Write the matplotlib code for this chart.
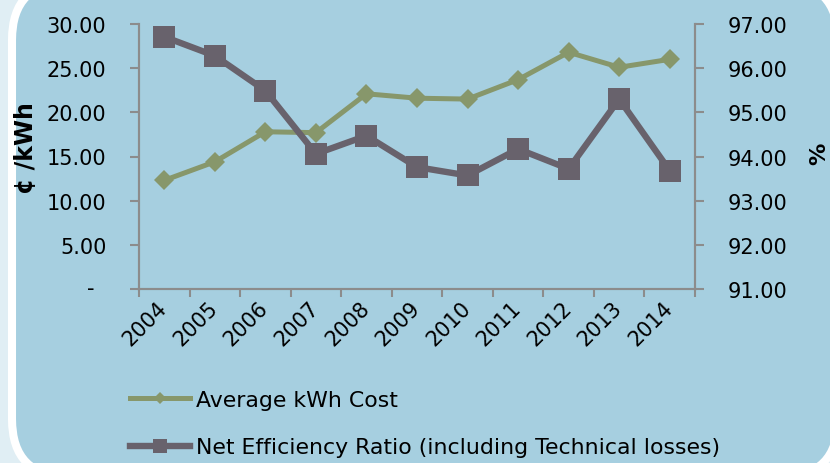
import numpy as np
import matplotlib
matplotlib.use("Agg")
from matplotlib import pyplot as plt
from matplotlib.patches import FancyBboxPatch
from matplotlib.transforms import ScaledTranslation

#################### DATA ####################
years = ["2004", "2005", "2006", "2007", "2008", "2009", "2010", "2011", "2012", "2013", "2014"]
avg_cost = [12.3, 14.4, 17.8, 17.7, 22.1, 21.6, 21.5, 23.7, 26.8, 25.1, 26.0]          # c/kWh, left axis
net_eff = [96.71, 96.28, 95.49, 94.06, 94.47, 93.76, 93.57, 94.17, 93.72, 95.30, 93.68]  # %, right axis
left_ticks = [0, 5, 10, 15, 20, 25, 30]
right_ticks = [91, 92, 93, 94, 95, 96, 97]
labels = ["Average kWh Cost", "Net Efficiency Ratio (including Technical losses)"]

GREEN = "#87976B"
GREY = "#68626C"
BLUE = "#A6CFE0"
SPINE = "#8C8C8C"
FONT = "DejaVu Sans"

W, H = 830, 464
fig = plt.figure(figsize=(W / 100, H / 100), dpi=100)
fig.patch.set_facecolor("#E0EEF4")

# background panel (rounded, white border) in pixel coords
bg = fig.add_axes([0, 0, 1, 1])
bg.set_xlim(0, W)
bg.set_ylim(H, 0)
bg.axis("off")
bg.add_patch(FancyBboxPatch((12, -17), 826, 495, boxstyle="round,pad=0,rounding_size=58",
                            facecolor=BLUE, edgecolor="white", linewidth=5.8))

#################### MAIN AXES ####################
ax = fig.add_axes([139 / W, 1 - 290 / H, (695 - 139) / W, (290 - 25) / H])
ax.patch.set_alpha(0)
ax2 = ax.twinx()

x = np.arange(len(years))
ax.plot(x, avg_cost, color=GREEN, lw=3.6, marker="D", ms=10.5, mew=0, label=labels[0], zorder=3)
ax2.plot(x, net_eff, color=GREY, lw=4.6, marker="s", ms=16.5, mew=0, label=labels[1], zorder=3)

ax.set_xlim(-0.5, len(years) - 0.5)
ax.set_ylim(0, 30)
ax2.set_ylim(91, 97)

ax.set_yticks(left_ticks)
ax.set_yticklabels([""] + ["%.2f" % v for v in left_ticks[1:]])
ax2.set_yticks(right_ticks)
ax2.set_yticklabels(["%.2f" % v for v in right_ticks])

ax.set_xticks(np.arange(-0.5, len(years)), minor=False)
ax.set_xticklabels([])
ax.set_xticks(x, minor=True)
ax.set_xticklabels(years, minor=True, rotation=45, ha="right", va="top", fontsize=15, family=FONT)
ax.tick_params(axis="x", which="minor", length=0, pad=6)
ax.tick_params(axis="x", which="major", length=5.5, width=1.5, color=SPINE, direction="out")
shift = ScaledTranslation(7 / 100, 0, fig.dpi_scale_trans)
for lab in ax.xaxis.get_minorticklabels():
    lab.set_transform(lab.get_transform() + shift)

ax.tick_params(axis="y", length=6.5, width=1.5, color=SPINE, pad=17, labelsize=15)
ax2.tick_params(axis="y", length=6.5, width=1.5, color=SPINE, pad=17, labelsize=15)
for lab in ax.get_yticklabels() + ax2.get_yticklabels():
    lab.set_family(FONT)

for a in (ax, ax2):
    a.spines["top"].set_visible(False)
    for s in ("left", "right", "bottom"):
        a.spines[s].set_color(SPINE)
        a.spines[s].set_linewidth(1.5)

# accounting style zero label
fig.text(91 / W, 1 - 289 / H, "-", ha="center", va="center", fontsize=15, family=FONT)

fig.text(26 / W, 1 - 148 / H, "¢ /kWh", rotation=90, ha="center", va="center",
         fontsize=17, fontweight="bold", family=FONT)
fig.text(819 / W, 1 - 154 / H, "%", rotation=90, ha="center", va="center",
         fontsize=16, fontweight="bold", family=FONT)

h1, l1 = ax.get_legend_handles_labels()
h2, l2 = ax2.get_legend_handles_labels()
fig.legend(h1 + h2, l1 + l2, loc="upper left", bbox_to_anchor=(119 / W, 1 - 380 / H),
           frameon=False, prop={"family": FONT, "size": 15.8}, handlelength=2.75,
           handletextpad=0.27, labelspacing=1.25, markerscale=0.62, borderpad=0)

fig.savefig("out.png", dpi=100, facecolor=fig.get_facecolor())
